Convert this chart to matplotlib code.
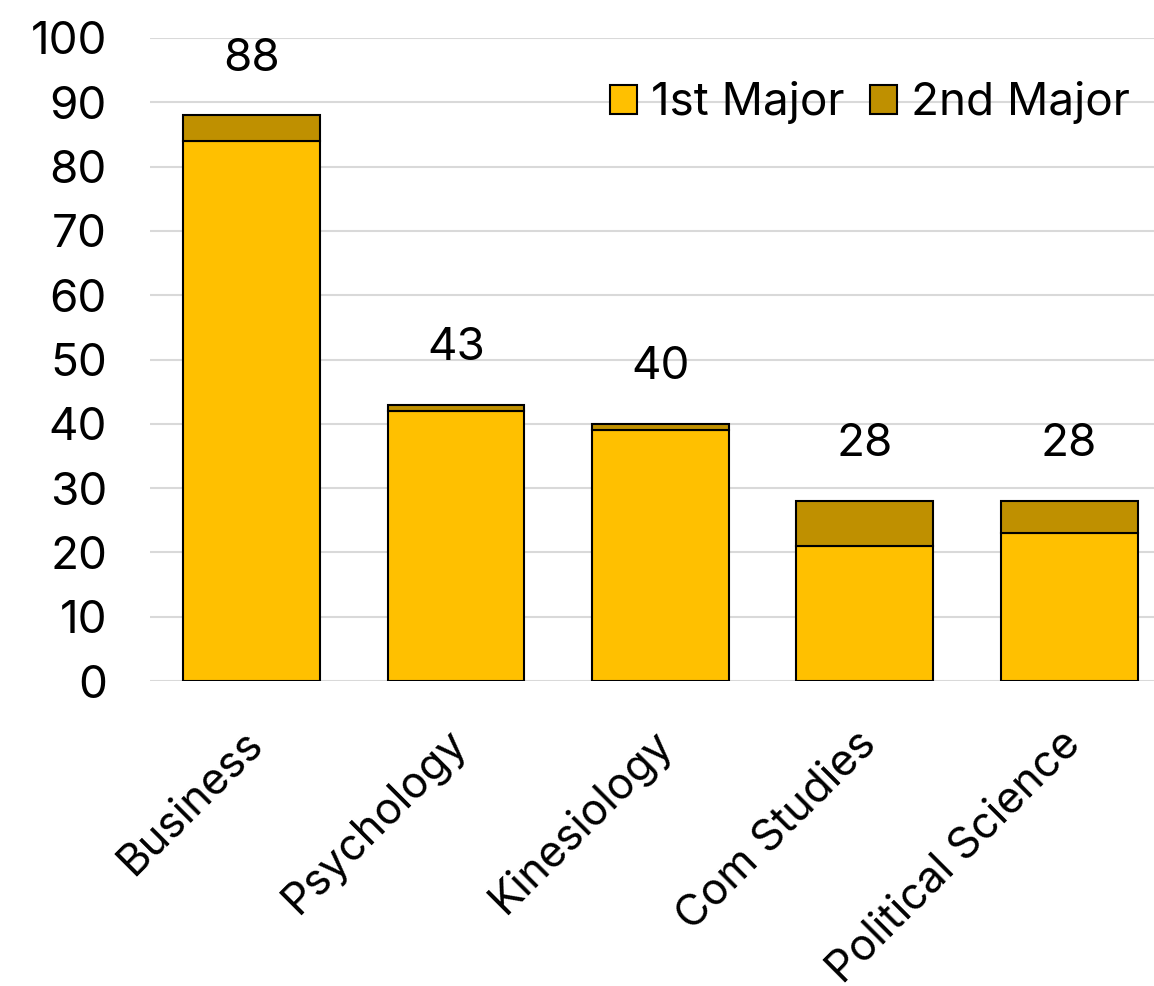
import matplotlib
matplotlib.use("Agg")
import matplotlib.pyplot as plt
import matplotlib.transforms as mtransforms

categories = ["Business", "Psychology", "Kinesiology", "Com Studies", "Political Science"]
first_major = [84, 42, 39, 21, 23]
second_major = [4, 1, 1, 7, 5]
totals = [88, 43, 40, 28, 28]
yticks = [0, 10, 20, 30, 40, 50, 60, 70, 80, 90, 100]

plt.rcParams['font.family'] = ['Inter', 'DejaVu Sans']

fig = plt.figure(figsize=(11.54, 9.86), dpi=100)
ax = fig.add_axes([150/1154, (986-681)/986, 1 - 150/1154, (681-38)/986])

x = list(range(len(categories)))
c1 = '#FFC000'
c2 = '#BF9000'
ax.bar(x, first_major, width=0.67, color=c1, edgecolor='black', linewidth=1.5, label='1st Major', zorder=3)
ax.bar(x, second_major, width=0.67, bottom=first_major, color=c2, edgecolor='black', linewidth=1.5, label='2nd Major', zorder=3)

for xi, t in zip(x, totals):
    ax.text(xi, t + 8.8, str(t), ha='center', va='center', fontsize=33, zorder=4)

ax.set_ylim(0, 100)
ax.set_xlim(-0.497, 4.415)
ax.set_yticks(yticks)
ax.yaxis.grid(True, color='#d9d9d9', linewidth=1.5, zorder=0)
ax.set_axisbelow(True)
for s in ax.spines.values():
    s.set_visible(False)
ax.tick_params(axis='y', length=0, labelsize=33, pad=31)
ax.tick_params(axis='x', length=0, pad=30)
ax.set_xticks(x)
ax.set_xticklabels(categories, rotation=45, ha='right', rotation_mode='anchor', fontsize=31.5)
offset = mtransforms.ScaledTranslation(-10/100, 0, fig.dpi_scale_trans)
for lab in ax.get_xticklabels():
    lab.set_transform(lab.get_transform() + offset)

leg = ax.legend(loc='center right', bbox_to_anchor=(1130/1154, (986-103)/986),
                bbox_transform=fig.transFigure, ncol=2, frameon=False, fontsize=33,
                handlelength=0.6, handleheight=0.6, handletextpad=0.3, columnspacing=0.55,
                borderpad=0, borderaxespad=0)

fig.savefig('out.png', dpi=100)
